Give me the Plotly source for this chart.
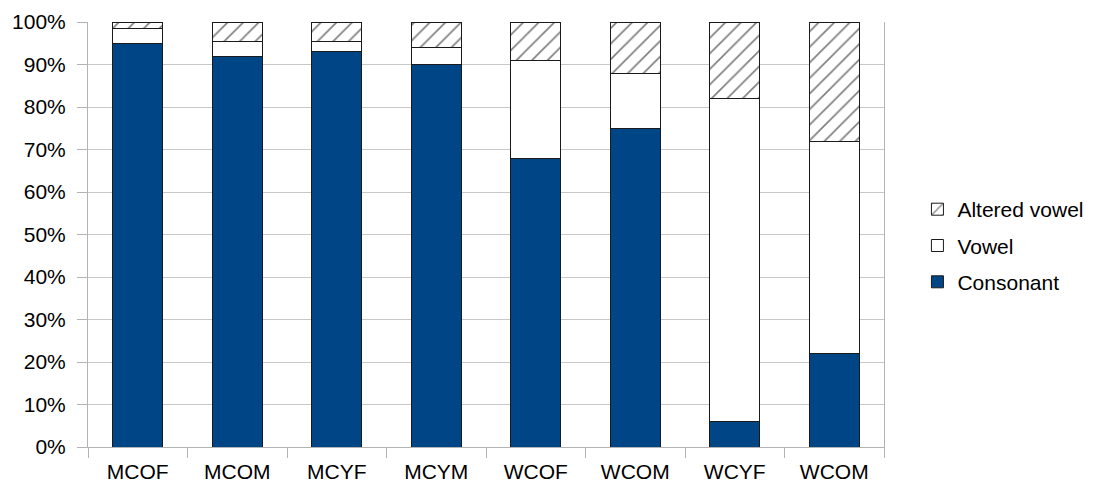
import plotly.graph_objects as go

categories = ["MCOF", "MCOM", "MCYF", "MCYM", "WCOF", "WCOM", "WCYF", "WCOM"]
consonant = [95, 92, 93, 90, 68, 75, 6, 22]
vowel = [3.5, 3.5, 2.5, 4, 23, 13, 76, 50]
altered_vowel = [1.5, 4.5, 4.5, 6, 9, 12, 18, 28]

x = list(range(len(categories)))
font = "Liberation Sans, Arial, sans-serif"
line = dict(color="#1a1a1a", width=1)

fig = go.Figure()
fig.add_trace(go.Bar(x=x, y=consonant, name="Consonant", legendgroup="c", legendrank=3,
                     marker=dict(color="#004586", line=line), width=0.5))
fig.add_trace(go.Bar(x=x, y=vowel, name="Vowel", legendgroup="v", legendrank=2,
                     marker=dict(color="white", line=line), width=0.5))
fig.add_trace(go.Bar(x=x, y=altered_vowel, name="Altered vowel", legendgroup="a", legendrank=1,
                     marker=dict(color="white", line=line,
                                 pattern=dict(shape="/", fgcolor="#000000", bgcolor="white",
                                              size=11, solidity=0.15)),
                     width=0.5))

fig.update_layout(
    barmode="stack",
    width=1104, height=490,
    margin=dict(l=80, r=228, t=14, b=51),
    paper_bgcolor="white", plot_bgcolor="white",
    font=dict(family=font, size=21, color="#000000"),
    legend=dict(x=1.042, y=0.474, yanchor="middle", xanchor="left",
                traceorder="grouped", tracegroupgap=6,
                font=dict(size=21), itemwidth=30),
    showlegend=True,
)
fig.update_xaxes(
    range=[-0.5, len(categories) - 0.5], automargin=False,
    tickmode="array", tickvals=x, ticktext=categories,
    ticks="", showgrid=False, showline=True, linecolor="#b3b3b3", linewidth=1,
    minor=dict(ticks="outside", ticklen=10, tickcolor="#b3b3b3", tickwidth=1,
               tick0=-0.5, dtick=1, showgrid=False),
    tickfont=dict(size=21), zeroline=False, ticklabelstandoff=6,
)
fig.update_yaxes(
    range=[0, 100], automargin=False, tickvals=list(range(0, 101, 10)),
    ticktext=[f"{v}%" for v in range(0, 101, 10)],
    ticks="outside", ticklen=10, tickcolor="#b3b3b3",
    showgrid=True, gridcolor="#c8c8c8", gridwidth=1,
    showline=True, linecolor="#b3b3b3", linewidth=1, mirror=True,
    zeroline=False, tickfont=dict(size=21), ticklabelstandoff=7,
)

fig.write_html("out.html")
